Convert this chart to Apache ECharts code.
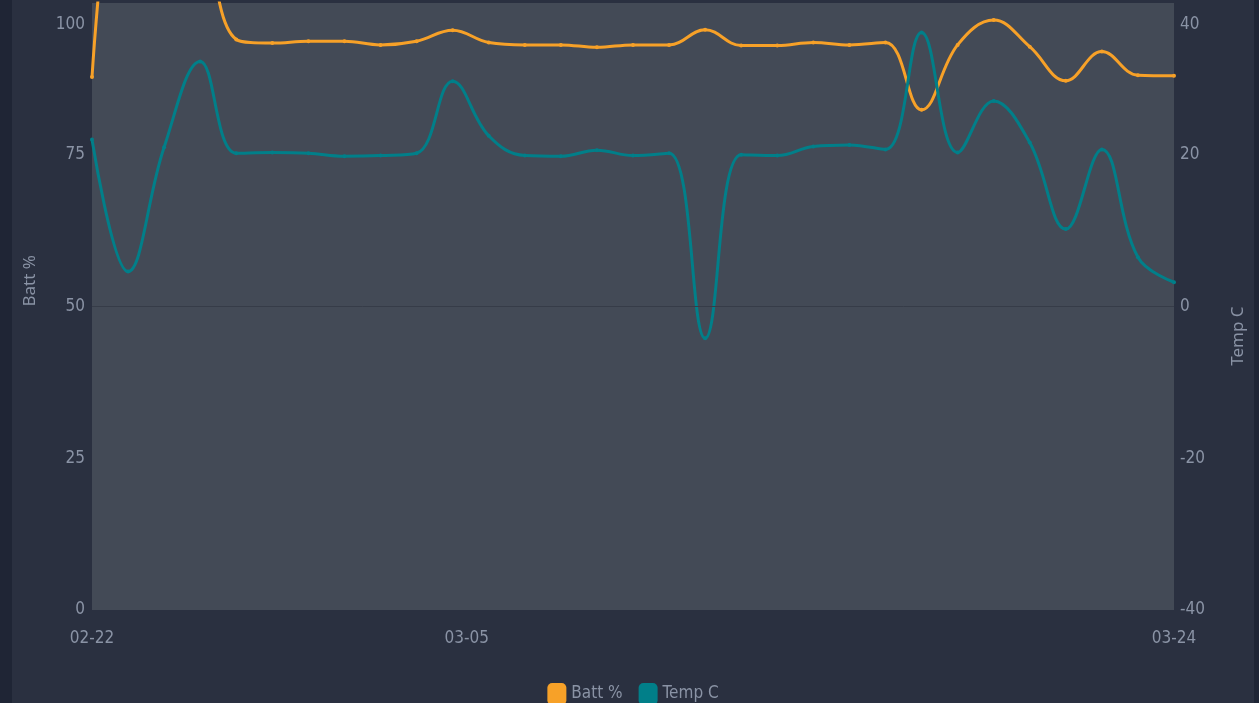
<!DOCTYPE html>
<html>
<head>
<meta charset="utf-8">
<title>Batt / Temp</title>
<script src="https://cdn.jsdelivr.net/npm/echarts@6/dist/echarts.min.js"></script>
<style>
    html, body { margin: 0; padding: 0; background: #1f2535; }
    #chart { position: absolute; left: 12px; top: 0; width: 1242px; height: 703px; }
</style>
</head>
<body>
<div id="chart"></div>
<script>
// categories (daily)
const days = ['02-22', '02-23', '02-24', '02-25', '02-26', '02-27', '02-28', '03-01', '03-02', '03-03',
    '03-04', '03-05', '03-06', '03-07', '03-08', '03-09', '03-10', '03-11', '03-12', '03-13',
    '03-14', '03-15', '03-16', '03-17', '03-18', '03-19', '03-20', '03-21', '03-22', '03-23', '03-24']
// labels shown on the x axis
const shownDays = ['02-22', '03-05', '03-24']

// series values
const battPct = [87.8, 140, 150, 122, 94.0, 93.4, 93.7, 93.7, 93.1, 93.7,
    95.5, 93.5, 93.1, 93.1, 92.7, 93.1, 93.1, 95.6, 93.0, 93.0,
    93.5, 93.1, 93.5, 82.4, 93.1, 97.2, 92.8, 87.2, 92.0, 88.1, 88.0]
const tempC = [22.0, 4.6, 21.0, 32.3, 20.2, 20.3, 20.2, 19.8, 19.9, 20.2,
    29.7, 22.5, 19.9, 19.8, 20.6, 19.9, 20.2, -4.2, 20.0, 19.9,
    21.1, 21.3, 20.7, 36.1, 20.3, 27.1, 21.6, 10.2, 20.7, 6.5, 3.2]

const textColor = '#8a93a5'
const tickFont = "'DejaVu Sans Condensed', 'Liberation Sans Narrow', 'DejaVu Sans', sans-serif"
const tickSize = 17

const chart = echarts.init(document.getElementById('chart'))

chart.setOption({
    backgroundColor: '#2a3040',
    animation: false,
    grid: { // plot area
        left: 80,
        right: 80,
        top: 3,
        bottom: 93,
        outerBoundsMode: 'none',
        show: true,
        backgroundColor: '#434a56',
        borderWidth: 0
    },
    legend: {
        data: ['Batt %', 'Temp C'],
        top: 678,
        left: 'center',
        icon: 'roundRect',
        itemWidth: 19,
        itemHeight: 22,
        itemGap: 16,
        textStyle: { color: textColor, fontFamily: tickFont, fontSize: tickSize }
    },
    xAxis: {
        type: 'category',
        boundaryGap: false,
        data: days,
        axisLine: { show: false },
        axisTick: { show: false },
        splitLine: { show: false },
        axisLabel: {
            color: textColor,
            fontFamily: tickFont,
            fontSize: tickSize,
            margin: 20,
            interval: (i, v) => shownDays.indexOf(v) >= 0,
            formatter: v => v === '03-05' ? '{s|' + v + '}' : v, // nudged left to sit where the source puts it
            rich: { s: { color: textColor, fontFamily: tickFont, fontSize: tickSize, padding: [0, 44, 0, 0] } }
        }
    },
    yAxis: [{
        type: 'value',
        name: 'Batt %',
        nameLocation: 'middle',
        nameGap: 53,
        nameTextStyle: { color: textColor, fontFamily: 'Noto Sans', fontSize: 17, align: 'left' },
        min: 0,
        max: 100,
        interval: 25,
        axisLine: { show: false },
        axisTick: { show: false },
        splitLine: { show: false },
        axisLabel: {
            color: textColor,
            fontFamily: tickFont,
            fontSize: tickSize,
            margin: 7,
            formatter: v => v === 100 ? '{t|100}' : v,
            rich: { t: { color: textColor, fontFamily: tickFont, fontSize: tickSize, padding: [44, 0, 0, 0] } }
        }
    }, {
        type: 'value',
        name: 'Temp C',
        nameLocation: 'middle',
        nameGap: 56,
        nameTextStyle: { color: textColor, fontFamily: 'Noto Sans', fontSize: 17, align: 'right' },
        min: -40,
        max: 40,
        interval: 20,
        axisLine: { show: false },
        axisTick: { show: false },
        splitLine: { show: false },
        axisLabel: {
            color: textColor,
            fontFamily: tickFont,
            fontSize: tickSize,
            margin: 6,
            formatter: v => v === 40 ? '{t|40}' : v,
            rich: { t: { color: textColor, fontFamily: tickFont, fontSize: tickSize, padding: [44, 0, 0, 0] } }
        }
    }],
    series: [{
        name: 'Batt %',
        type: 'line',
        yAxisIndex: 0,
        data: battPct,
        smooth: 0.4,
        symbol: 'circle',
        symbolSize: 4,
        itemStyle: { color: '#f7a128' },
        lineStyle: { width: 3, color: '#f7a128' }
    }, {
        name: 'Temp C',
        type: 'line',
        yAxisIndex: 1,
        data: tempC,
        smooth: 0.4,
        symbol: 'circle',
        symbolSize: 4,
        itemStyle: { color: '#017f89' },
        lineStyle: { width: 3, color: '#017f89' },
        markLine: { // zero line of the temperature axis
            silent: true,
            symbol: 'none',
            label: { show: false },
            lineStyle: { color: '#363c48', width: 1, type: 'solid' },
            data: [{ yAxis: 0 }]
        }
    }]
})
</script>
</body>
</html>
